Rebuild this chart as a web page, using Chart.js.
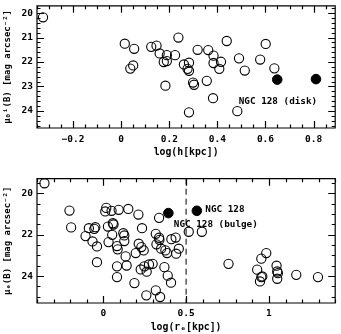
<!DOCTYPE html>
<html>
<head>
<meta charset="utf-8">
<script src="https://cdn.jsdelivr.net/npm/chart.js@4.4.1/dist/chart.umd.min.js"></script>
<style>
  html, body { margin: 0; padding: 0; background: #fff; }
  .panel { width: 341px; height: 167px; }
  canvas { display: block; }
</style>
</head>
<body>
<div class="panel"><canvas id="top" width="341" height="167"></canvas></div>
<div class="panel"><canvas id="bottom" width="341" height="167"></canvas></div>
<script>
// top panel: disk scale length vs face-on central surface brightness
var diskLogH = [-0.325, 0.015, 0.054, 0.038, 0.050, 0.125, 0.147, 0.160, 0.190, 0.177,
  0.190, 0.184, 0.238, 0.224, 0.261, 0.282, 0.276, 0.282, 0.299, 0.303,
  0.282, 0.318, 0.362, 0.384, 0.384, 0.415, 0.408, 0.356, 0.382, 0.439,
  0.490, 0.483, 0.514, 0.578, 0.601, 0.637];
var diskMu0 = [20.17, 21.25, 21.46, 22.27, 22.14, 21.38, 21.33, 21.65, 21.72, 22.00,
  21.96, 22.97, 21.00, 21.72, 22.10, 22.03, 22.28, 22.36, 22.84, 22.93,
  24.06, 21.50, 21.51, 21.74, 22.04, 21.99, 22.28, 22.77, 23.48, 21.14,
  21.85, 24.01, 22.35, 21.90, 21.26, 22.26];
var ngcDiskLogH = [0.649, 0.810];
var ngcDiskMu0 = [22.72, 22.70];

// bottom panel: bulge effective radius vs effective surface brightness
var bulgeLogRe = [-0.355, -0.204, -0.194, -0.107, -0.087, -0.065, -0.054, -0.048, -0.038, -0.038,
  0.018, 0.012, 0.050, 0.093, 0.151, 0.028, 0.032, 0.058, 0.062, 0.054,
  0.083, 0.087, 0.083, 0.083, 0.121, 0.127, 0.127, 0.135, 0.141, 0.188,
  0.196, 0.212, 0.214, 0.230, 0.244, 0.234, 0.226, 0.248, 0.262, 0.276,
  0.260, 0.317, 0.343, 0.298, 0.317, 0.321, 0.337, 0.337, 0.339, 0.349,
  0.375, 0.385, 0.369, 0.389, 0.409, 0.411, 0.437, 0.440, 0.456, 0.516,
  0.595, 0.756, 0.929, 0.954, 0.946, 0.960, 0.954, 0.984, 1.046, 1.050,
  1.054, 1.050, 1.165, 1.296];
var bulgeMuE = [19.52, 20.84, 21.65, 22.07, 21.69, 22.33, 21.72, 21.64, 22.57, 23.33,
  20.71, 20.88, 20.85, 20.80, 20.76, 21.61, 22.36, 21.45, 21.51, 22.01,
  22.55, 22.71, 23.53, 24.05, 21.93, 22.04, 22.31, 23.05, 23.49, 24.34,
  22.89, 21.03, 22.44, 22.60, 22.76, 21.69, 23.68, 23.53, 23.79, 23.44,
  24.93, 24.69, 25.01, 23.41, 21.96, 22.47, 21.19, 22.15, 22.25, 22.68,
  22.76, 22.89, 23.57, 23.98, 24.32, 22.22, 22.14, 22.92, 22.68, 21.86,
  21.86, 23.41, 23.69, 24.05, 24.26, 24.02, 23.16, 22.89, 23.50, 23.78,
  23.86, 24.13, 23.94, 24.05];
var ngcBulgeLogRe = [0.393, 0.565];
var ngcBulgeMuE = [20.96, 20.85];

// dividing line in the bottom panel
var cutLogRe = [0.5, 0.5];
var cutMuE = [19.3, 25.3];

// tick labels
var topXTicks = [-0.2, 0, 0.2, 0.4, 0.6, 0.8];
var topXLabels = ["\u22120.2", "0", "0.2", "0.4", "0.6", "0.8"];
var topYTicks = [20, 21, 22, 23, 24];
var bottomXTicks = [0, 0.5, 1];
var bottomXLabels = ["0", "0.5", "1"];
var bottomYTicks = [20, 22, 24];

var FONT = "'DejaVu Sans Mono', monospace";

function pts(xs, ys) {
  return xs.map(function(x, i) { return { x: x, y: ys[i] }; });
}

// box around the plot with inward ticks on all four sides
var frameTicks = {
  id: 'frameTicks',
  afterDatasetsDraw: function(chart, args, opts) {
    var ctx = chart.ctx, a = chart.chartArea;
    var xs = chart.scales.x, ys = chart.scales.y;
    function steps(scale, step) {
      var out = [];
      for (var i = Math.ceil(scale.min / step - 1e-6); i * step <= scale.max + 1e-6; i++) out.push(i * step);
      return out;
    }
    function isMajor(v, step) {
      return Math.abs(v / step - Math.round(v / step)) < 1e-6;
    }
    ctx.save();
    ctx.strokeStyle = '#000';
    ctx.lineWidth = 1.2;
    ctx.beginPath();
    ctx.rect(a.left, a.top, a.right - a.left, a.bottom - a.top);
    steps(xs, opts.xMinor).forEach(function(v) {
      var len = isMajor(v, opts.xMajor) ? 7 : 3.5;
      var p = Math.round(xs.getPixelForValue(v)) + 0.5;
      ctx.moveTo(p, a.bottom); ctx.lineTo(p, a.bottom - len);
      ctx.moveTo(p, a.top); ctx.lineTo(p, a.top + len);
    });
    steps(ys, opts.yMinor).forEach(function(v) {
      var len = isMajor(v, opts.yMajor) ? 7 : 3.5;
      var p = Math.round(ys.getPixelForValue(v)) + 0.5;
      ctx.moveTo(a.left, p); ctx.lineTo(a.left + len, p);
      ctx.moveTo(a.right, p); ctx.lineTo(a.right - len, p);
    });
    ctx.stroke();

    // text notes placed at data coordinates
    ctx.fillStyle = '#000';
    ctx.font = 'bold 9.3px ' + FONT;
    ctx.textAlign = 'left';
    ctx.textBaseline = 'middle';
    (opts.notes || []).forEach(function(n) {
      ctx.fillText(n.text, xs.getPixelForValue(n.x), ys.getPixelForValue(n.y));
    });
    ctx.restore();
  }
};

function makeChart(id, cfg) {
  var tickFont = { family: FONT, size: 9.5, weight: 'bold' };
  var titleFont = { family: FONT, size: 9.8, weight: 'bold' };
  var yTitleFont = { family: FONT, size: 9, weight: 'bold' };
  return new Chart(document.getElementById(id), {
    type: 'scatter',
    data: { datasets: cfg.datasets },
    options: {
      responsive: false,
      animation: false,
      events: [],
      layout: { padding: { top: cfg.padTop, right: 1, left: 0, bottom: 0 } },
      plugins: {
        legend: { display: false },
        tooltip: { enabled: false },
        frameTicks: cfg.frame
      },
      scales: {
        x: {
          type: 'linear', min: cfg.xMin, max: cfg.xMax,
          grid: { display: false, drawTicks: false },
          border: { display: false },
          afterBuildTicks: function(s) { s.ticks = cfg.xTicks.map(function(v) { return { value: v }; }); },
          afterFit: function(s) { s.height = cfg.xHeight; s.paddingLeft = 0; s.paddingRight = 0; },
          ticks: {
            color: '#000', font: tickFont, padding: cfg.xTickPad, maxRotation: 0, autoSkip: false,
            callback: function(v, i) { return cfg.xLabels[i]; }
          },
          title: { display: true, text: cfg.xTitle, color: '#000', font: titleFont, padding: { top: 0, bottom: cfg.xTitlePad } }
        },
        y: {
          type: 'linear', reverse: true, min: cfg.yMin, max: cfg.yMax,
          grid: { display: false, drawTicks: false },
          border: { display: false },
          afterBuildTicks: function(s) { s.ticks = cfg.yTicks.map(function(v) { return { value: v }; }); },
          afterFit: function(s) { s.width = 37; s.paddingTop = 0; s.paddingBottom = 0; },
          ticks: { color: '#000', font: tickFont, padding: 4, autoSkip: false },
          title: { display: true, text: cfg.yTitle, color: '#000', font: yTitleFont, padding: { top: 2, bottom: 0 } }
        }
      }
    },
    plugins: [frameTicks]
  });
}

function openSet(data) {
  return { data: data, pointRadius: 4.6, pointBorderWidth: 1.1, pointBorderColor: '#000', pointBackgroundColor: 'rgba(0,0,0,0)' };
}
function filledSet(data) {
  return { data: data, pointRadius: 4.8, pointBorderWidth: 1, pointBorderColor: '#000', pointBackgroundColor: '#000' };
}

makeChart('top', {
  datasets: [openSet(pts(diskLogH, diskMu0)), filledSet(pts(ngcDiskLogH, ngcDiskMu0))],
  padTop: 0.5, xMin: -0.35, xMax: 0.89, yMin: 19.7, yMax: 24.7,
  xTicks: topXTicks, xLabels: topXLabels, yTicks: topYTicks,
  xHeight: 39, xTickPad: 6, xTitlePad: 9,
  xTitle: 'log(h[kpc])', yTitle: '\u03bc\u2080\u2071(B) [mag arcsec\u207b\u00b2]',
  frame: { xMinor: 0.05, xMajor: 0.2, yMinor: 0.2, yMajor: 1,
    notes: [{ text: 'NGC 128 (disk)', x: 0.489, y: 23.62 }] }
});

makeChart('bottom', {
  datasets: [
    { type: 'line', data: pts(cutLogRe, cutMuE), borderColor: '#000', borderWidth: 1, borderDash: [6, 4], pointRadius: 0, fill: false },
    openSet(pts(bulgeLogRe, bulgeMuE)),
    filledSet(pts(ngcBulgeLogRe, ngcBulgeMuE))
  ],
  padTop: 11.7, xMin: -0.4, xMax: 1.4, yMin: 19.3, yMax: 25.3,
  xTicks: bottomXTicks, xLabels: bottomXLabels, yTicks: bottomYTicks,
  xHeight: 31, xTickPad: 5, xTitlePad: 1,
  xTitle: 'log(r\u2091[kpc])', yTitle: '\u03bc\u2091(B) [mag arcsec\u207b\u00b2]',
  frame: { xMinor: 0.1, xMajor: 0.5, yMinor: 0.5, yMajor: 2,
    notes: [{ text: 'NGC 128', x: 0.616, y: 20.79 }, { text: 'NGC 128 (bulge)', x: 0.426, y: 21.51 }] }
});
</script>
</body>
</html>
